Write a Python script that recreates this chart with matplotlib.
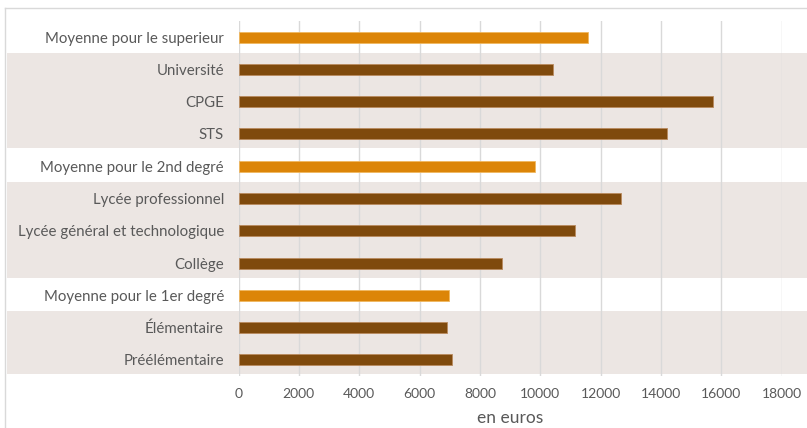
import matplotlib
matplotlib.use("Agg")
import matplotlib.pyplot as plt
from matplotlib.lines import Line2D

categories = ["Moyenne pour le superieur", "Université", "CPGE", "STS",
              "Moyenne pour le 2nd degré", "Lycée professionnel",
              "Lycée général et technologique", "Collège",
              "Moyenne pour le 1er degré", "Élémentaire", "Préélémentaire"]
values = [11575, 10435, 15730, 14215, 9840, 12680, 11145, 8725, 6975, 6910, 7080]
is_average = [True, False, False, False, True, False, False, False, True, False, False]
xticks = [0, 2000, 4000, 6000, 8000, 10000, 12000, 14000, 16000, 18000]
xlabel = "en euros"

plt.rcParams['font.family'] = ['Lato', 'DejaVu Sans']

W, H = 807, 428
fig = plt.figure(figsize=(W / 100, H / 100), dpi=100)
left, right, top, bottom = 238.5, 781.7, 21, 376
ax = fig.add_axes([left / W, 1 - bottom / H, (right - left) / W, (bottom - top) / H])

c_avg = "#dc8508"
c_bar = "#7f4a0d"
band = "#ece6e3"
grid = "#d9d9d9"
txt = "#595959"

n = len(categories)
ys = list(range(n))
colors = [c_avg if a else c_bar for a in is_average]
edges = ["#f0b860" if a else "#b98a5e" for a in is_average]
ax.barh(ys, values, height=0.34, color=colors, edgecolor=edges, linewidth=0.6, zorder=3)

# background bands for non-average groups
xmin = (7 - left) / (right - left)
xmax = (W - left) / (right - left)
i = 0
while i < n:
    if not is_average[i]:
        j = i
        while j + 1 < n and not is_average[j + 1]:
            j += 1
        ax.axhspan(i - 0.5, j + 0.45, xmin=xmin, xmax=xmax, color=band, lw=0,
                   zorder=0, clip_on=False)
        i = j + 1
    else:
        i += 1

ax.set_xlim(0, 18000)
ax.set_ylim(n - 0.5, -0.5)
ax.set_xticks(xticks)
ax.set_xticklabels([str(t) for t in xticks])
ax.set_yticks(ys)
ax.set_yticklabels(categories)
ax.grid(axis='x', color=grid, lw=1, zorder=1)
ax.set_axisbelow(True)
for s in ax.spines.values():
    s.set_visible(False)
ax.patch.set_alpha(0)
ax.tick_params(axis='y', length=0, pad=10.5, labelsize=10.8, labelcolor=txt)
ax.tick_params(axis='x', length=0, pad=9, labelsize=10, labelcolor=txt)
ax.set_xlabel(xlabel, fontsize=12.5, color=txt, labelpad=7)

# chart frame (partial)
fig.add_artist(Line2D([5 / W, 1], [1 - 8 / H, 1 - 8 / H], color=grid, lw=1))
fig.add_artist(Line2D([5 / W, 5 / W], [0, 1 - 8 / H], color=grid, lw=1))

fig.savefig("out.png", dpi=100, facecolor="white")
